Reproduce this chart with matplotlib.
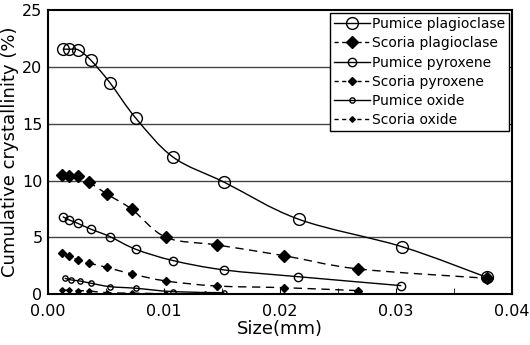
import numpy as np
import matplotlib
matplotlib.use("Agg")
import matplotlib.pyplot as plt
from matplotlib.path import Path
from matplotlib.patches import PathPatch
from matplotlib.lines import Line2D

plt.rcParams['font.family'] = ['DejaVu Sans']

# Data (size in mm, cumulative crystallinity in %)
pp_x = [0.00127, 0.00184, 0.00261, 0.00368, 0.00534, 0.00756, 0.01080, 0.0152, 0.0216, 0.0305, 0.0378]
pp_y = [21.55, 21.55, 21.49, 20.6, 18.6, 15.5, 12.05, 9.85, 6.6, 4.19, 1.5]

sp_x = [0.00118, 0.00181, 0.00256, 0.00356, 0.00506, 0.00722, 0.01017, 0.01454, 0.02037, 0.02675, 0.0378]
sp_y = [10.49, 10.43, 10.4, 9.85, 8.82, 7.48, 5.01, 4.34, 3.39, 2.23, 1.41]

px_x = [0.00127, 0.00184, 0.00256, 0.00371, 0.00534, 0.00756, 0.0108, 0.0152, 0.02152, 0.03045]
px_y = [6.82, 6.53, 6.24, 5.72, 5.07, 3.96, 2.96, 2.14, 1.55, 0.76]

sx_x = [0.00118, 0.00181, 0.00256, 0.00356, 0.00506, 0.00722, 0.01017, 0.01454, 0.02037, 0.02675]
sx_y = [3.61, 3.37, 3.02, 2.73, 2.37, 1.79, 1.17, 0.73, 0.58, 0.32]

po_x = [0.00144, 0.00201, 0.00273, 0.00371, 0.00534, 0.00756, 0.0108, 0.0152]
po_y = [1.41, 1.26, 1.17, 0.97, 0.67, 0.53, 0.23, 0.14]

so_x = [0.00118, 0.00181, 0.00256, 0.00356, 0.00506, 0.00722, 0.01017, 0.01353]
so_y = [0.38, 0.35, 0.32, 0.29, 0.14, 0.1, 0.05, 0.0]

labels = ["Pumice plagioclase", "Scoria plagioclase", "Pumice pyroxene",
          "Scoria pyroxene", "Pumice oxide", "Scoria oxide"]

fig = plt.figure(figsize=(5.3, 3.45), dpi=100)
ax = fig.add_axes([0.0906, 0.147, 0.8755, 0.824])
ax.set_xlim(0, 0.04)
ax.set_ylim(0, 25)


def smooth_path(x, y):
    pts = np.column_stack([x, y]).astype(float)
    verts = [pts[0]]
    codes = [Path.MOVETO]
    n = len(pts)
    for i in range(n - 1):
        p0 = pts[i - 1] if i > 0 else pts[i]
        p1 = pts[i]
        p2 = pts[i + 1]
        p3 = pts[i + 2] if i + 2 < n else pts[i + 1]
        c1 = p1 + (p2 - p0) / 6.0
        c2 = p2 - (p3 - p1) / 6.0
        verts += [c1, c2, p2]
        codes += [Path.CURVE4] * 3
    return Path(verts, codes)


styles = [
    (pp_x, pp_y, '-', 'o', 'none', 8.5),
    (sp_x, sp_y, '--', 'D', 'black', 6.5),
    (px_x, px_y, '-', 'o', 'none', 6),
    (sx_x, sx_y, '--', 'D', 'black', 4.5),
    (po_x, po_y, '-', 'o', 'none', 3.8),
    (so_x, so_y, '--', 'D', 'black', 2.8),
]

handles = []
for (x, y, ls, mk, fc, ms), lab in zip(styles, labels):
    patch = PathPatch(smooth_path(x, y), facecolor='none', edgecolor='black',
                      lw=1.0, zorder=3)
    if ls == '--':
        patch.set_linestyle((0, (6, 4)))
    ax.add_patch(patch)
    ax.plot(x, y, linestyle='none', marker=mk, markersize=ms,
            markerfacecolor=fc, markeredgecolor='black', markeredgewidth=1.0,
            zorder=4)
    h = Line2D([], [], color='black', lw=1.0,
               linestyle=(0, (3, 2.5)) if ls == '--' else '-',
               marker=mk, markersize=ms, markerfacecolor=fc,
               markeredgecolor='black', markeredgewidth=1.0, label=lab)
    handles.append(h)

ax.set_yticks([0, 5, 10, 15, 20, 25])
ax.set_xticks([0, 0.01, 0.02, 0.03, 0.04])
ax.set_xticklabels(["0.00", "0.01", "0.02", "0.03", "0.04"])
ax.set_xticks([0.005, 0.015, 0.025, 0.035], minor=True)
ax.tick_params(axis='x', which='both', direction='in', length=4, labelsize=11.5, pad=7)
ax.tick_params(axis='y', which='both', length=0, labelsize=11.5, pad=4)
for yv in [5, 10, 15, 20]:
    ax.axhline(yv, color='#444444', lw=1.0, zorder=1)
for s in ax.spines.values():
    s.set_linewidth(1.5)
    s.set_color('black')

ax.set_xlabel("Size(mm)", fontsize=13, labelpad=1)
ax.set_ylabel("Cumulative crystallinity (%)", fontsize=13, labelpad=2)

leg = ax.legend(handles=handles, loc='upper right', fontsize=10,
                handlelength=2.6, handletextpad=0.15, borderaxespad=0.25,
                labelspacing=0.38, borderpad=0.25, fancybox=False,
                framealpha=1, edgecolor='black', numpoints=1)
leg.get_frame().set_linewidth(1.0)
leg.set_zorder(10)

fig.savefig("out.png", dpi=100)
